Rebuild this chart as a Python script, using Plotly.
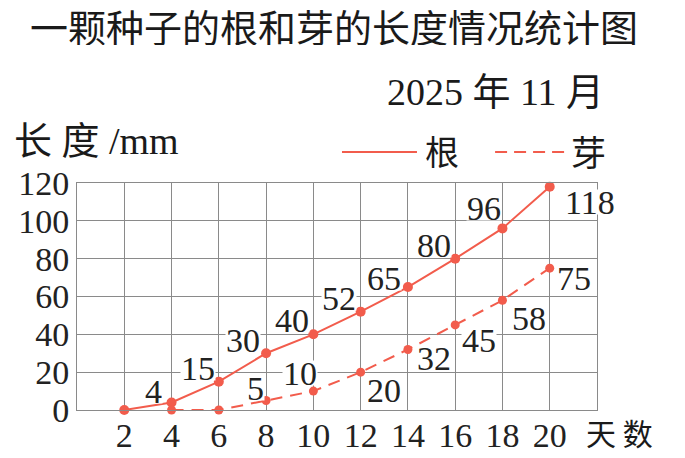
import plotly.graph_objects as go

# days and lengths (mm)
root_days = [2, 4, 6, 8, 10, 12, 14, 16, 18, 20]
root_len = [0, 4, 15, 30, 40, 52, 65, 80, 96, 118]
bud_days = [4, 6, 8, 10, 12, 14, 16, 18, 20]
bud_len = [0, 0, 5, 10, 20, 32, 45, 58, 75]
x_ticks = [2, 4, 6, 8, 10, 12, 14, 16, 18, 20]
y_ticks = [0, 20, 40, 60, 80, 100, 120]

# label offsets in px (dx, dy up)
root_off = [None, (-18, 11), (-21, 14), (-23, 13), (-21, 14), (-22, 14),
            (-24, 9), (-21, 14), (-18, 20), (40, -15)]
bud_off = [None, None, (-11, 13), (-13, 18), (23, -18), (26, -9),
           (24, -15), (27, -18), (24, -10)]

RED = "#F25C4C"
GRID = "#8a8a8a"
SERIF = "Liberation Serif, Noto Sans CJK SC"
CJK = "Noto Sans CJK SC"

fig = go.Figure()
fig.add_trace(go.Scatter(
    x=root_days, y=root_len, mode="lines+markers", name="根",
    line=dict(color=RED, width=2), marker=dict(color=RED, size=10),
    cliponaxis=False,
))
fig.add_trace(go.Scatter(
    x=bud_days, y=bud_len, mode="lines+markers", name="芽",
    line=dict(color=RED, width=2, dash="12px,8px"), marker=dict(color=RED, size=9),
    cliponaxis=False,
))

anns = []
for days, vals, offs in [(root_days, root_len, root_off), (bud_days, bud_len, bud_off)]:
    for d, v, o in zip(days, vals, offs):
        if o is None:
            continue
        # tight white box so the grid breaks behind the number
        anns.append(dict(x=d, y=v, text=str(v), showarrow=False,
                         xanchor="center", yanchor="middle", height=24,
                         borderpad=0, xshift=o[0], yshift=o[1], bgcolor="white",
                         font=dict(family=SERIF, size=34, color="#222")))


def label(x, y, text, size, family=CJK, xanchor="center", height=None):
    return dict(x=x, y=y, xref="paper", yref="paper", xanchor=xanchor,
                yanchor="middle", text=text, showarrow=False, height=height,
                borderpad=0,
                font=dict(family=family, size=size, color="#1a1a1a"))


# header texts
anns += [
    label(0.494, 1.695, "一颗种子的根和芽的长度情况统计图", 38, height=40),
    label(-0.123, 1.185, "长 度 /mm", 38, SERIF, "left"),
    label(1.0154, 1.401, "2025 年 11 月", 38, SERIF, "right"),
    label(0.977, -0.097, "天 数", 30, CJK, "left"),
    label(0.702, 1.145, "根", 34),
    label(0.983, 1.145, "芽", 35),
]

shapes = [
    dict(type="line", xref="paper", yref="paper", x0=0.5096, x1=0.6538,
         y0=1.1366, y1=1.1366, line=dict(color=RED, width=2)),
    dict(type="line", xref="paper", yref="paper", x0=0.804, x1=0.942,
         y0=1.1366, y1=1.1366, line=dict(color=RED, width=2, dash="12px,7px")),
]

# page body adds an 8px margin, so the figure is drawn 8px smaller
fig.update_layout(
    width=677, height=450,
    margin=dict(l=69, r=88, t=175, b=48, autoexpand=False),
    paper_bgcolor="white", plot_bgcolor="white",
    showlegend=False,
    annotations=anns, shapes=shapes,
)
fig.update_xaxes(
    range=[0, 22], tickvals=x_ticks, showgrid=True, gridcolor=GRID, gridwidth=1,
    showline=True, mirror=True, linecolor=GRID, linewidth=1, zeroline=False,
    ticks="", automargin=False, ticklabelstandoff=-5,
    tickfont=dict(family=SERIF, size=34, color="#222"),
)
fig.update_yaxes(
    range=[0, 120], tickvals=y_ticks, showgrid=True, gridcolor=GRID, gridwidth=1,
    showline=True, mirror=True, linecolor=GRID, linewidth=1, zeroline=False,
    ticks="", automargin=False,
    tickfont=dict(family=SERIF, size=34, color="#222"),
)

fig.write_html("out.html")
